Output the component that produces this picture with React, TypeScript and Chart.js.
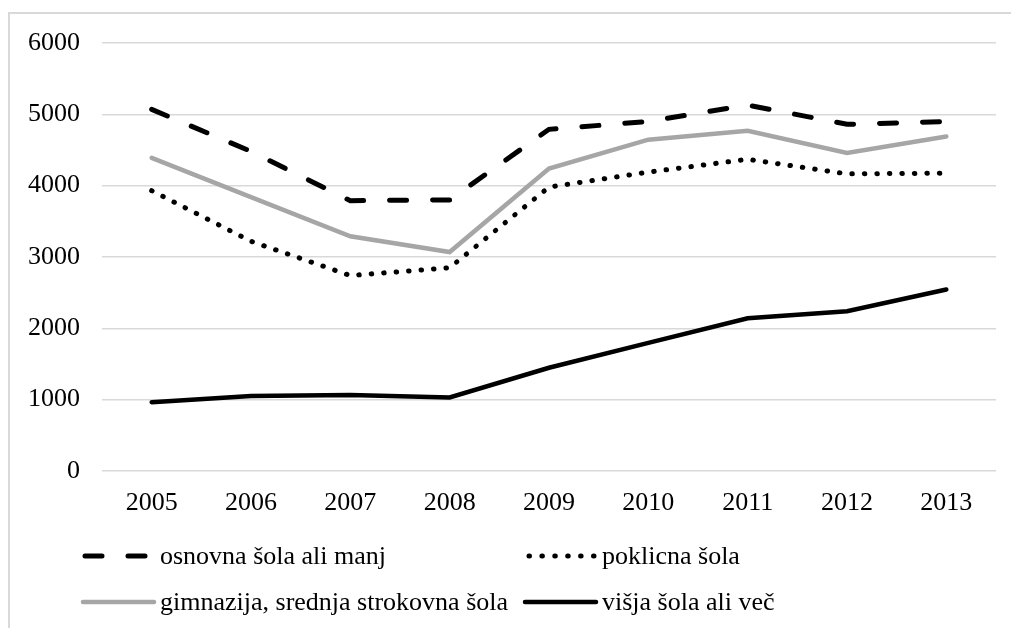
import React, { useEffect, useRef } from "react";
import { Chart, registerables } from "chart.js";

Chart.register(...registerables);

const years = ["2005", "2006", "2007", "2008", "2009", "2010", "2011", "2012", "2013"];
const osnovna = [5070, 4480, 3790, 3800, 4790, 4900, 5130, 4860, 4900];
const poklicna = [3930, 3220, 2740, 2850, 3980, 4190, 4370, 4165, 4175];
const gimnazija = [4390, 3840, 3290, 3070, 4240, 4645, 4770, 4460, 4690];
const visja = [965, 1050, 1065, 1030, 1447, 1797, 2140, 2240, 2545];

const labels = [
  "osnovna šola ali manj",
  "poklicna šola",
  "gimnazija, srednja strokovna šola",
  "višja šola ali več",
];

const FONT = "'Liberation Serif', 'Times New Roman', serif";

const legendPlugin = {
  id: "twoColLegend",
  afterDraw(chart: any) {
    const ctx = chart.ctx;
    const cols = [83, 525];
    const rows = [556, 602];
    const sampleW = 71;
    chart.data.datasets.forEach((ds: any, i: number) => {
      const x = cols[i % 2];
      const y = rows[Math.floor(i / 2)];
      ctx.save();
      ctx.strokeStyle = ds.borderColor;
      ctx.lineWidth = ds.borderWidth;
      ctx.lineCap = ds.borderCapStyle || "butt";
      ctx.setLineDash(ds.legendDash || []);
      ctx.beginPath();
      ctx.moveTo(x + (ds.legendInset || 0), y);
      ctx.lineTo(x + sampleW, y);
      ctx.stroke();
      ctx.setLineDash([]);
      ctx.fillStyle = "#000";
      ctx.font = `26px ${FONT}`;
      ctx.textBaseline = "middle";
      ctx.textAlign = "left";
      ctx.fillText(ds.label, x + sampleW + 6, y + 1);
      ctx.restore();
    });
  },
};

export default function App() {
  const ref = useRef<HTMLCanvasElement | null>(null);
  useEffect(() => {
    if (!ref.current) return;
    const chart = new Chart(ref.current, {
      type: "line",
      data: {
        labels: years,
        datasets: [
          {
            label: labels[0],
            data: osnovna,
            borderColor: "#000",
            borderWidth: 5,
            borderDash: [17, 26],
            borderCapStyle: "round",
            pointRadius: 0,
            tension: 0,
            legendDash: [17, 26],
            legendInset: 2,
          } as any,
          {
            label: labels[1],
            data: poklicna,
            borderColor: "#000",
            borderWidth: 5,
            borderDash: [0.5, 12],
            borderCapStyle: "round",
            pointRadius: 0,
            tension: 0,
            legendDash: [0.5, 12.4],
            legendInset: 4,
          } as any,
          {
            label: labels[2],
            data: gimnazija,
            borderColor: "#a6a6a6",
            borderWidth: 4.5,
            borderCapStyle: "round",
            pointRadius: 0,
            tension: 0,
          } as any,
          {
            label: labels[3],
            data: visja,
            borderColor: "#000",
            borderWidth: 4.5,
            borderCapStyle: "round",
            pointRadius: 0,
            tension: 0,
          } as any,
        ],
      },
      options: {
        responsive: false,
        animation: false,
        layout: { padding: { top: 43, right: 15, bottom: 107, left: 0 } },
        plugins: {
          legend: { display: false },
          tooltip: { enabled: false },
        },
        scales: {
          x: {
            offset: true,
            grid: { display: false, drawTicks: false, offset: true },
            border: { display: false },
            ticks: { color: "#000", font: { family: FONT, size: 26 }, padding: 17 },
            afterFit: (s: any) => {
              s.height = 50;
            },
          },
          y: {
            min: 0,
            max: 6000,
            grid: { color: "#d9d9d9", lineWidth: 1.5, drawTicks: false },
            border: { display: false },
            ticks: {
              stepSize: 1000,
              color: "#000",
              font: { family: FONT, size: 26 },
              padding: 22,
              callback: (v: any) => String(v),
            },
            afterFit: (s: any) => {
              s.width = 102;
            },
          },
        },
      },
      plugins: [legendPlugin],
    });
    return () => chart.destroy();
  }, []);

  return (
    <div
      style={{
        position: "fixed",
        left: 0,
        top: 0,
        width: 1011,
        height: 628,
        overflow: "hidden",
        background: "#fff",
      }}
    >
      <div
        style={{
          position: "absolute",
          left: 8,
          top: 12,
          width: 1200,
          height: 800,
          borderTop: "2px solid #d9d9d9",
          borderLeft: "2px solid #d9d9d9",
        }}
      />
      <canvas
        ref={ref}
        width={1011}
        height={628}
        style={{ position: "absolute", left: 0, top: 0, width: 1011, height: 628 }}
      />
    </div>
  );
}
